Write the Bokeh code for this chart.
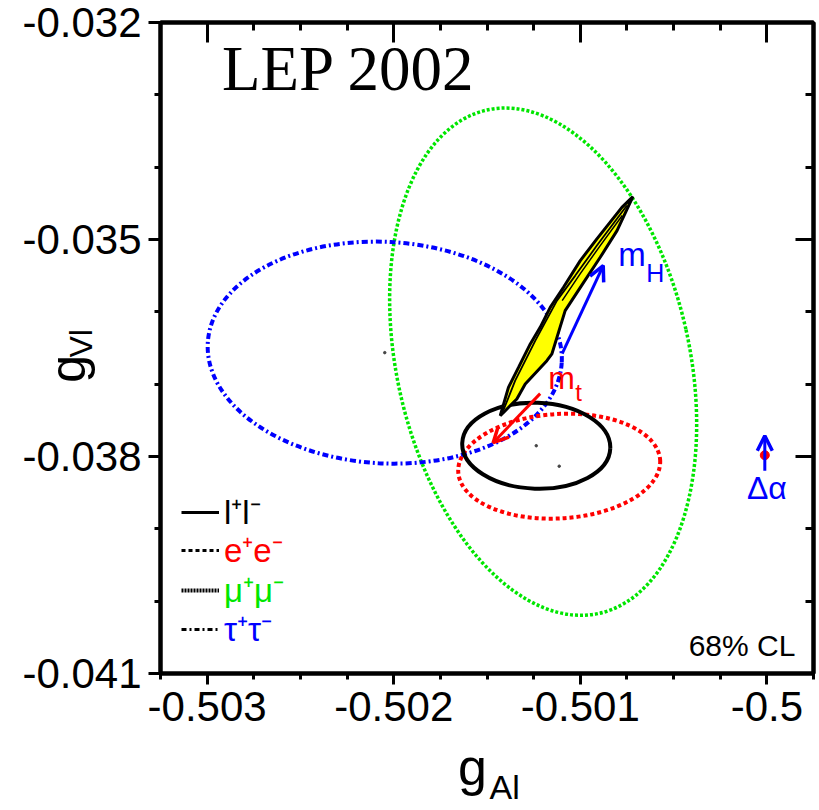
from bokeh.plotting import figure
from bokeh.models import (Range1d, FixedTicker, LinearAxis, Label, Arrow, OpenHead,
                          Legend, LegendItem, Title)
from bokeh.embed import file_html
from bokeh.resources import INLINE

# ---------------- data ----------------
x_ticks = [-0.503, -0.502, -0.501, -0.5]
x_tick_labels = ["-0.503", "-0.502", "-0.501", "-0.5"]
x_minor_ticks = [-0.50325, -0.50275, -0.5025, -0.50225, -0.50175, -0.5015, -0.50125,
                 -0.50075, -0.5005, -0.50025, -0.49975]
y_ticks = [-0.041, -0.038, -0.035, -0.032]
y_tick_labels = ["-0.041", "-0.038", "-0.035", "-0.032"]
y_minor_ticks = [-0.040, -0.039, -0.037, -0.036, -0.034, -0.033]

# 68% CL contours: l+l-, e+e-, mu+mu-, tau+tau-
channels = ["l⁺l⁻", "e⁺e⁻", "μ⁺μ⁻", "τ⁺τ⁻"]
ell_x = [-0.501236, -0.501113, -0.501199, -0.502048]
ell_y = [-0.037851, -0.038134, -0.036689, -0.036564]
ell_w = [0.000794, 0.001084, 0.001569, 0.001900]
ell_h = [0.001189, 0.001444, 0.007129, 0.003062]
ell_angle = [-2.0, 3.4, 12.6, -3.2]

# Standard Model prediction band (outline) and inner lines
band_x = [-0.500718, -0.500777, -0.500911, -0.501000, -0.501090, -0.501161, -0.501215,
          -0.501268, -0.501331, -0.501385, -0.501429, -0.501402, -0.501340, -0.501295,
          -0.501179, -0.501152, -0.501125, -0.501081, -0.500982, -0.500893, -0.500803]
band_y = [-0.034407, -0.034555, -0.034992, -0.035292, -0.035661, -0.035938, -0.036214,
          -0.036444, -0.036768, -0.037044, -0.037436, -0.037367, -0.037205, -0.036997,
          -0.036675, -0.036582, -0.036353, -0.035983, -0.035592, -0.035246, -0.034877]
band_l1_x = [-0.500750, -0.500911, -0.501027, -0.501125, -0.501241, -0.501349, -0.501413]
band_l1_y = [-0.034531, -0.035084, -0.035499, -0.035845, -0.036398, -0.036952, -0.037367]
band_l2_x = [-0.500775, -0.500893, -0.501000, -0.501097]
band_l2_y = [-0.034669, -0.035084, -0.035472, -0.035845]

# parameter arrows: m_H, m_t, Delta alpha
arrow_names = ["mH", "mt", "dalpha"]
arrow_x0 = [-0.501097, -0.501215, -0.500011]
arrow_y0 = [-0.036578, -0.037131, -0.038196]
arrow_x1 = [-0.500877, -0.501467, -0.500011]
arrow_y1 = [-0.035361, -0.037809, -0.037712]
dalpha_point_x = [-0.500011]
dalpha_point_y = [-0.037982]

SANS = "Liberation Sans"
SERIF = "Liberation Serif"
GREEN = "#00e600"
BLUE = "#0000ff"
RED = "#ff0000"

p = figure(x_range=Range1d(-0.50325, -0.49975), y_range=Range1d(-0.041, -0.032),
           frame_width=653, frame_height=651, output_backend="svg", toolbar_location=None,
           min_border_left=160, min_border_top=22, min_border_right=4, min_border_bottom=135,
           x_axis_location=None, y_axis_location=None, background_fill_color="white",
           border_fill_color="white")
for g in p.grid:
    g.visible = False
p.outline_line_color = "black"
p.outline_line_width = 4


def style_axis(ax, tin, tout, mtin, mtout, labels=True):
    ax.axis_line_width = 4
    ax.axis_line_color = "black"
    ax.major_tick_in = tin
    ax.major_tick_out = tout
    ax.minor_tick_in = mtin
    ax.minor_tick_out = mtout
    ax.major_tick_line_width = 3
    ax.minor_tick_line_width = 3
    ax.major_tick_line_color = "black"
    ax.minor_tick_line_color = "black"
    ax.major_label_text_font = SANS
    ax.major_label_text_color = "black"
    ax.axis_label_text_font = SANS
    ax.axis_label_text_font_style = "normal"
    ax.axis_label_text_color = "black"
    if labels:
        ax.major_label_text_font_size = "42px"
        ax.major_label_standoff = 7
    else:
        ax.major_label_text_font_size = "1px"
        ax.major_label_standoff = 0


xb = LinearAxis(ticker=FixedTicker(ticks=x_ticks, minor_ticks=x_minor_ticks),
                major_label_overrides=dict(zip(x_ticks, x_tick_labels)))
style_axis(xb, 0, 11, 0, 6)
xb.axis_label = "g\u2007"
xb.axis_label_text_font_size = "52px"
xb.axis_label_standoff = 14
p.add_layout(xb, "below")
# subscript of the x-axis title
p.add_layout(Title(text="Al", align="left", offset=329, standoff=-62, vertical_align="top",
                   text_font=SANS, text_font_size="34px", text_font_style="normal",
                   text_color="black"), "below")

xt = LinearAxis(ticker=FixedTicker(ticks=x_ticks, minor_ticks=x_minor_ticks),
                major_label_overrides={t: "" for t in x_ticks})
style_axis(xt, 20, 0, 8, 0, labels=False)
p.add_layout(xt, "above")

yl = LinearAxis(ticker=FixedTicker(ticks=y_ticks, minor_ticks=y_minor_ticks),
                major_label_overrides=dict(zip(y_ticks, y_tick_labels)))
style_axis(yl, 0, 12, 0, 6)
yl.axis_label = "g\u2007\u2008"
yl.axis_label_text_font_size = "50px"
yl.axis_label_standoff = -77
p.add_layout(yl, "left")
# subscript of the y-axis title
p.add_layout(Title(text="Vl", align="left", offset=316, standoff=-122, vertical_align="bottom",
                   text_font=SANS, text_font_size="32px", text_font_style="normal",
                   text_color="black"), "left")

yr = LinearAxis(ticker=FixedTicker(ticks=y_ticks, minor_ticks=y_minor_ticks),
                major_label_overrides={t: "" for t in y_ticks})
style_axis(yr, 18, 0, 8, 0, labels=False)
p.add_layout(yr, "right")

# contours
ell_colors = ["black", RED, GREEN, BLUE]
ell_dash = ["solid", "4 3", "3 2", "6 3 2 3"]
ell_width = [4, 4, 3.5, 4]
order = [2, 3, 1, 0]
for i in order:
    p.ellipse(x=[ell_x[i]], y=[ell_y[i]], width=[ell_w[i]], height=[ell_h[i]],
              angle=[ell_angle[i]], angle_units="deg", fill_color=None,
              line_color=ell_colors[i], line_dash=ell_dash[i], line_width=ell_width[i])

# centre markers
p.scatter(x=[ell_x[0], ell_x[1], ell_x[3]], y=[ell_y[0], ell_y[1], ell_y[3]],
          size=2.5, color="#444444")

# SM band
p.patch(band_x, band_y, fill_color="#ffff00", line_color="black", line_width=3)
p.line(band_l1_x, band_l1_y, line_color="black", line_width=1.8)
p.line(band_l2_x, band_l2_y, line_color="black", line_width=1.5)

# arrows
arrow_colors = [BLUE, RED, BLUE]
for i in range(len(arrow_names)):
    p.add_layout(Arrow(end=OpenHead(size=15, line_color=arrow_colors[i], line_width=3.5),
                       x_start=arrow_x0[i], y_start=arrow_y0[i],
                       x_end=arrow_x1[i], y_end=arrow_y1[i],
                       line_color=arrow_colors[i], line_width=3))
p.scatter(x=dalpha_point_x, y=dalpha_point_y, size=9, color=RED)


def lab(text, x, y, size, color="black", font=SANS, align="left"):
    p.add_layout(Label(x=x, y=y, text=text, text_font=font,
                       text_font_size=f"{size}px", text_color=color, text_align=align,
                       text_baseline="alphabetic"))


lab("LEP 2002", -0.502920, -0.032637, 63, font=SERIF)
lab("68% CL", -0.499847, -0.040617, 30, align="right")
lab("m", -0.500796, -0.035209, 33, color=BLUE)
lab("H", -0.500646, -0.035458, 25, color=BLUE)
lab("m", -0.501172, -0.036911, 32, color=RED)
lab("t", -0.501027, -0.037118, 24, color=RED)
lab("Δα", -0.500000, -0.038430, 32, color=BLUE, align="center")

# legend
leg_dash = ["solid", "4 3", "2 1", "5 3 2 3"]
leg_width = [3, 3, 4, 3]
leg_color = ["black", RED, GREEN, BLUE]
leg_size = [33, 33, 33, 33]
leg_y = [139, 101, 61, 22]
for i in range(4):
    r = p.line(x=[-1, -1], y=[-1, -1], line_color="black", line_dash=leg_dash[i],
               line_width=leg_width[i])
    lg = Legend(items=[LegendItem(label=channels[i], renderers=[r])],
                location=(21, leg_y[i]), glyph_width=38, glyph_height=32, label_height=32,
                label_standoff=5, padding=0, margin=0, spacing=0,
                border_line_color=None, background_fill_alpha=0,
                label_text_font=SANS, label_text_font_size=f"{leg_size[i]}px",
                label_text_color=leg_color[i])
    p.add_layout(lg)

open("out.html", "w").write(file_html(p, INLINE))
